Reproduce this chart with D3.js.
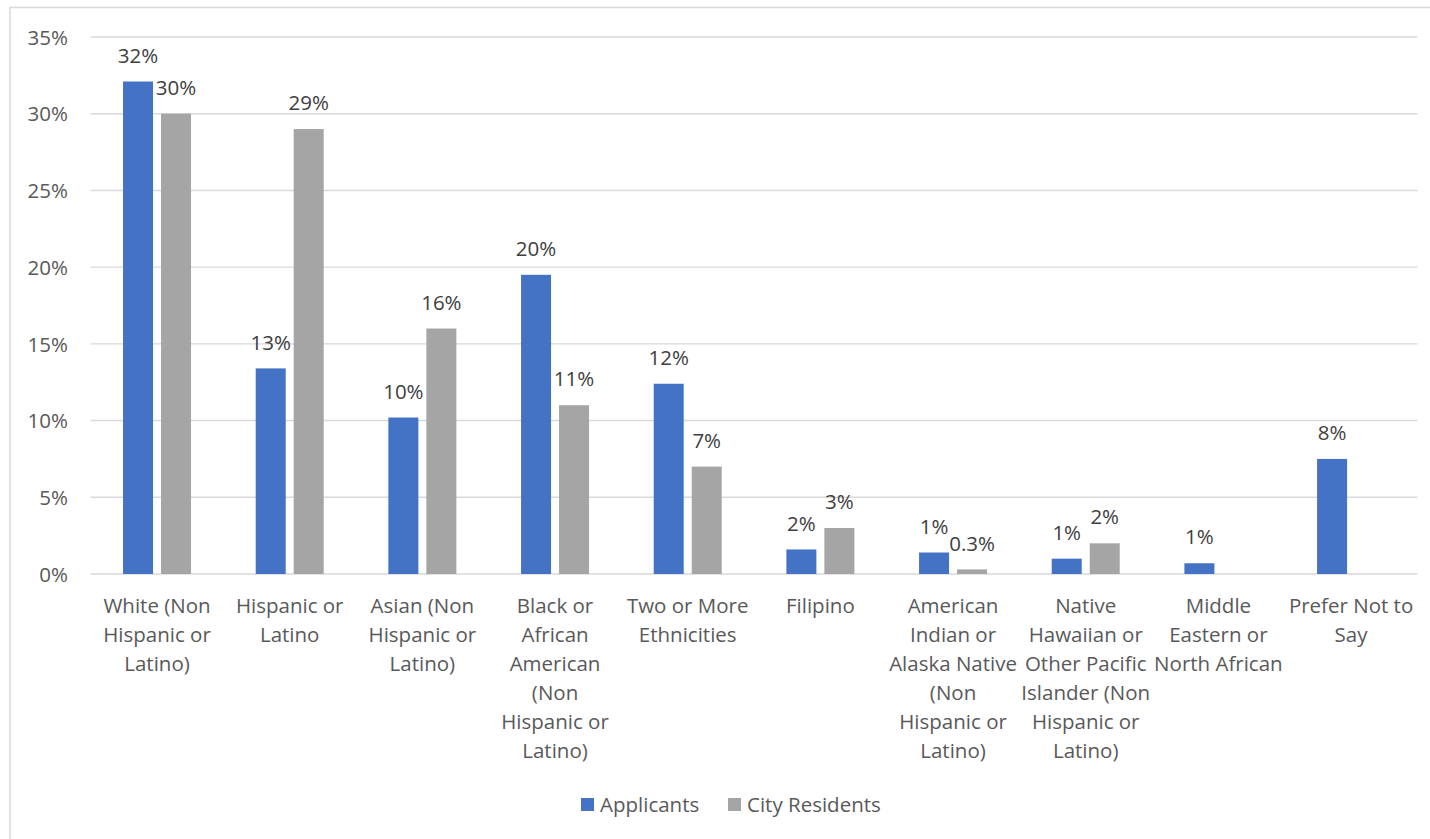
<!DOCTYPE html>
<html>
<head>
<meta charset="utf-8">
<script src="https://cdn.jsdelivr.net/npm/d3@7"></script>
<style>
  html, body { margin: 0; padding: 0; background: #fff; }
  svg { display: block; }
  text { font-family: "Open Sans", "Noto Sans", sans-serif; }
</style>
</head>
<body>
<svg id="chart" width="1430" height="839"></svg>
<script>
const categories = [
  ["White (Non", "Hispanic or", "Latino)"],
  ["Hispanic or", "Latino"],
  ["Asian (Non", "Hispanic or", "Latino)"],
  ["Black or", "African", "American", "(Non", "Hispanic or", "Latino)"],
  ["Two or More", "Ethnicities"],
  ["Filipino"],
  ["American", "Indian or", "Alaska Native", "(Non", "Hispanic or", "Latino)"],
  ["Native", "Hawaiian or", "Other Pacific", "Islander (Non", "Hispanic or", "Latino)"],
  ["Middle", "Eastern or", "North African"],
  ["Prefer Not to", "Say"]
];
const seriesNames = ["Applicants", "City Residents"];
const applicants = [32.1, 13.4, 10.2, 19.5, 12.4, 1.6, 1.4, 1.0, 0.7, 7.5];
const residents  = [30, 29, 16, 11, 7, 3, 0.3, 2, null, null];
const yTicks = [0, 5, 10, 15, 20, 25, 30, 35];
const colors = ["#4472C4", "#A5A5A5"];

const FS = 20.5;
const svg = d3.select("#chart");

// chart border
svg.append("path")
  .attr("d", "M10,839 L10,7.5 L1430,7.5")
  .attr("fill", "none").attr("stroke", "#D9D9D9").attr("stroke-width", 1.5);

const plot = { left: 90.7, right: 1417.4, top: 37, bottom: 574 };

const x0 = d3.scaleBand().domain(d3.range(categories.length))
  .range([plot.left, plot.right]).paddingInner(0).paddingOuter(0);
const x1 = d3.scaleBand().domain(seriesNames)
  .range([x0.bandwidth() / 2 - 34, x0.bandwidth() / 2 + 34])
  .paddingInner(2 - 68 / 38).paddingOuter(0);
const y = d3.scaleLinear().domain([0, 35]).range([plot.bottom, plot.top]);

// gridlines
svg.append("g").selectAll("line").data(yTicks).join("line")
  .attr("x1", plot.left).attr("x2", plot.right)
  .attr("y1", d => y(d)).attr("y2", d => y(d))
  .attr("stroke", "#D9D9D9").attr("stroke-width", 1.4);

// y axis labels
const yAxis = d3.axisLeft(y).tickValues(yTicks).tickFormat(d => d + "%").tickSize(0).tickPadding(0);
const gy = svg.append("g").attr("transform", "translate(68,0)").call(yAxis);
gy.select(".domain").remove();
gy.selectAll("text").attr("font-size", FS).attr("fill", "#595959")
  .attr("font-family", "'Open Sans', sans-serif").attr("dy", "0.35em");

// bars
const series = [applicants, residents];
const labelFmt = [v => Math.round(v) + "%", v => v + "%"];
series.forEach((vals, si) => {
  const data = vals.map((v, i) => ({ i, v })).filter(d => d.v != null);
  const g = svg.append("g");
  g.selectAll("rect").data(data).join("rect")
    .attr("x", d => x0(d.i) + x1(seriesNames[si]))
    .attr("width", x1.bandwidth())
    .attr("y", d => y(d.v))
    .attr("height", d => y(0) - y(d.v))
    .attr("fill", colors[si]);
  g.selectAll("text").data(data).join("text")
    .attr("x", d => x0(d.i) + x1(seriesNames[si]) + x1.bandwidth() / 2)
    .attr("y", d => y(d.v) - 26)
    .attr("dy", "0.35em")
    .attr("text-anchor", "middle")
    .attr("font-size", FS).attr("fill", "#404040")
    .text(d => labelFmt[si](d.v));
});

// x axis labels
const gx = svg.append("g");
categories.forEach((lines, i) => {
  const t = gx.append("text")
    .attr("x", x0(i) + x0.bandwidth() / 2)
    .attr("y", 606)
    .attr("text-anchor", "middle")
    .attr("font-size", FS).attr("fill", "#595959");
  lines.forEach((ln, k) => {
    t.append("tspan").attr("x", x0(i) + x0.bandwidth() / 2)
      .attr("y", 606 + k * 29).attr("dy", "0.35em").text(ln);
  });
});

// legend
const legendItems = [
  { name: seriesNames[0], color: colors[0], sx: 581, tx: 600 },
  { name: seriesNames[1], color: colors[1], sx: 728, tx: 747 }
];
const lg = svg.append("g");
legendItems.forEach(it => {
  lg.append("rect").attr("x", it.sx).attr("y", 798).attr("width", 13).attr("height", 13).attr("fill", it.color);
  lg.append("text").attr("x", it.tx).attr("y", 805).attr("dy", "0.35em")
    .attr("font-size", FS).attr("fill", "#595959").text(it.name);
});
</script>
</body>
</html>
